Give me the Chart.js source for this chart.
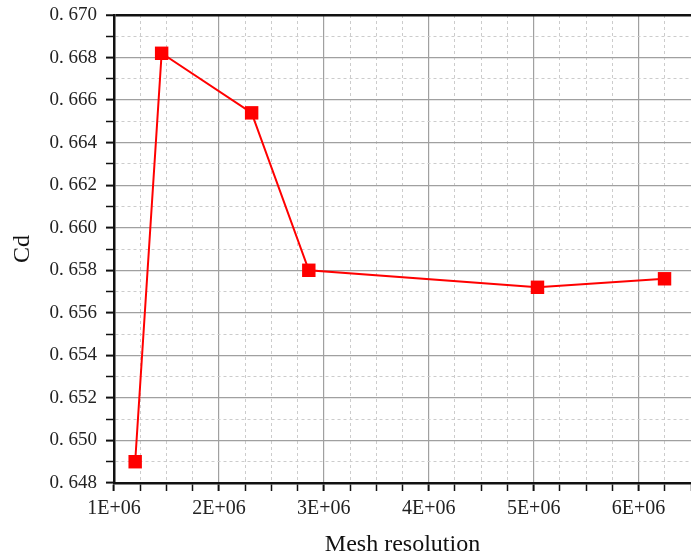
<!DOCTYPE html>
<html>
<head>
<meta charset="utf-8">
<title>Cd vs mesh resolution</title>
<script src="https://cdn.jsdelivr.net/npm/chart.js"></script>
<style>
body{ margin:0; background:#fff; }
.canvas_div{ width:691px; height:559px; }
</style>
</head>
<body>
<div class="canvas_div">
    <canvas id="myChart" width="691" height="559"></canvas>
</div>
<script>
// data
const meshCells = [1200000, 1450000, 2300000, 2840000, 5000000, 6200000];
const cdValues  = [0.6490, 0.6682, 0.6654, 0.6580, 0.6572, 0.6576];

const xMin = 1000000, xMax = 6450000, xStep = 250000;
const yMin = 0.648, yMax = 0.670, yStep = 0.001;

const serif = "'Liberation Serif', 'Times New Roman', serif";

function xMajor(v){ return Math.round(v / xStep) % 4 === 0; }
function yMajor(v){ return Math.round(v / yStep) % 2 === 0; }

const points = meshCells.map(function(x, i){ return {x: x, y: cdValues[i]}; });

const config = {
    type: 'scatter',
    data: {
        datasets: [{
            label: 'Cd',
            data: points,
            showLine: true,
            borderColor: '#ff0000',
            backgroundColor: '#ff0000',
            borderWidth: 2,
            pointStyle: 'rect',
            pointRadius: 9.5,
            pointHoverRadius: 9.5,
            pointBorderWidth: 0
        }]
    },
    options: {
        responsive: false,
        animation: false,
        layout: { autoPadding: false, padding: { top: 15, right: 0, left: 0, bottom: 0 } },
        plugins: {
            legend: { display: false },
            tooltip: { enabled: false }
        },
        scales: {
            x: {
                type: 'linear',
                bounds: 'data',
                min: xMin,
                max: xMax,
                afterFit: function(s){ s.height = 76; s.paddingLeft = 0; s.paddingRight = 0; },
                afterBuildTicks: function(s){
                    s.ticks = s.ticks.filter(function(t){ return t.value <= xMax; });
                },
                ticks: {
                    stepSize: xStep,
                    includeBounds: false,
                    autoSkip: false,
                    maxRotation: 0,
                    padding: 6,
                    color: '#222',
                    font: { family: serif, size: 20 },
                    callback: function(v){ return xMajor(v) ? Math.round(v / 1e6) + 'E+06' : ''; }
                },
                grid: {
                    color: function(c){ return c.tick && xMajor(c.tick.value) ? '#a0a0a0' : '#cccccc'; },
                    lineWidth: function(c){ return c.tick && xMajor(c.tick.value) ? 1.2 : 1; },
                    tickColor: '#111',
                    tickLength: 8,
                    tickWidth: function(c){ return c.tick && xMajor(c.tick.value) ? 2 : 1.5; }
                },
                border: {
                    display: true,
                    color: '#111',
                    width: 2.5,
                    dash: function(c){ return c.tick && !xMajor(c.tick.value) ? [3, 3] : []; }
                },
                title: {
                    display: true,
                    text: 'Mesh resolution',
                    color: '#111',
                    font: { family: serif, size: 24 },
                    padding: { top: 0, bottom: 0 }
                }
            },
            y: {
                type: 'linear',
                min: yMin,
                max: yMax,
                afterFit: function(s){ s.width = 114; s.paddingTop = 0; s.paddingBottom = 0; },
                ticks: {
                    stepSize: yStep,
                    autoSkip: false,
                    padding: 9,
                    color: '#222',
                    font: { family: serif, size: 19 },
                    callback: function(v){
                        return yMajor(v) ? v.toFixed(3).replace('.', '. ') : '';
                    }
                },
                grid: {
                    color: function(c){
                        if (!c.tick) return '#a0a0a0';
                        if (Math.abs(c.tick.value - yMax) < 1e-9) return '#111';
                        return yMajor(c.tick.value) ? '#a0a0a0' : '#cccccc';
                    },
                    lineWidth: function(c){
                        if (c.tick && Math.abs(c.tick.value - yMax) < 1e-9) return 2.5;
                        return c.tick && yMajor(c.tick.value) ? 1.2 : 1;
                    },
                    tickColor: '#111',
                    tickLength: 8,
                    tickWidth: function(c){ return c.tick && yMajor(c.tick.value) ? 2 : 1.5; }
                },
                border: {
                    display: true,
                    color: '#111',
                    width: 2.5,
                    dash: function(c){ return c.tick && !yMajor(c.tick.value) ? [3, 3] : []; }
                },
                title: {
                    display: true,
                    text: 'Cd',
                    color: '#111',
                    font: { family: serif, size: 24 },
                    padding: { top: 8, bottom: 0 }
                }
            }
        }
    }
};

const myChart = new Chart(document.getElementById('myChart'), config);
</script>
</body>
</html>
